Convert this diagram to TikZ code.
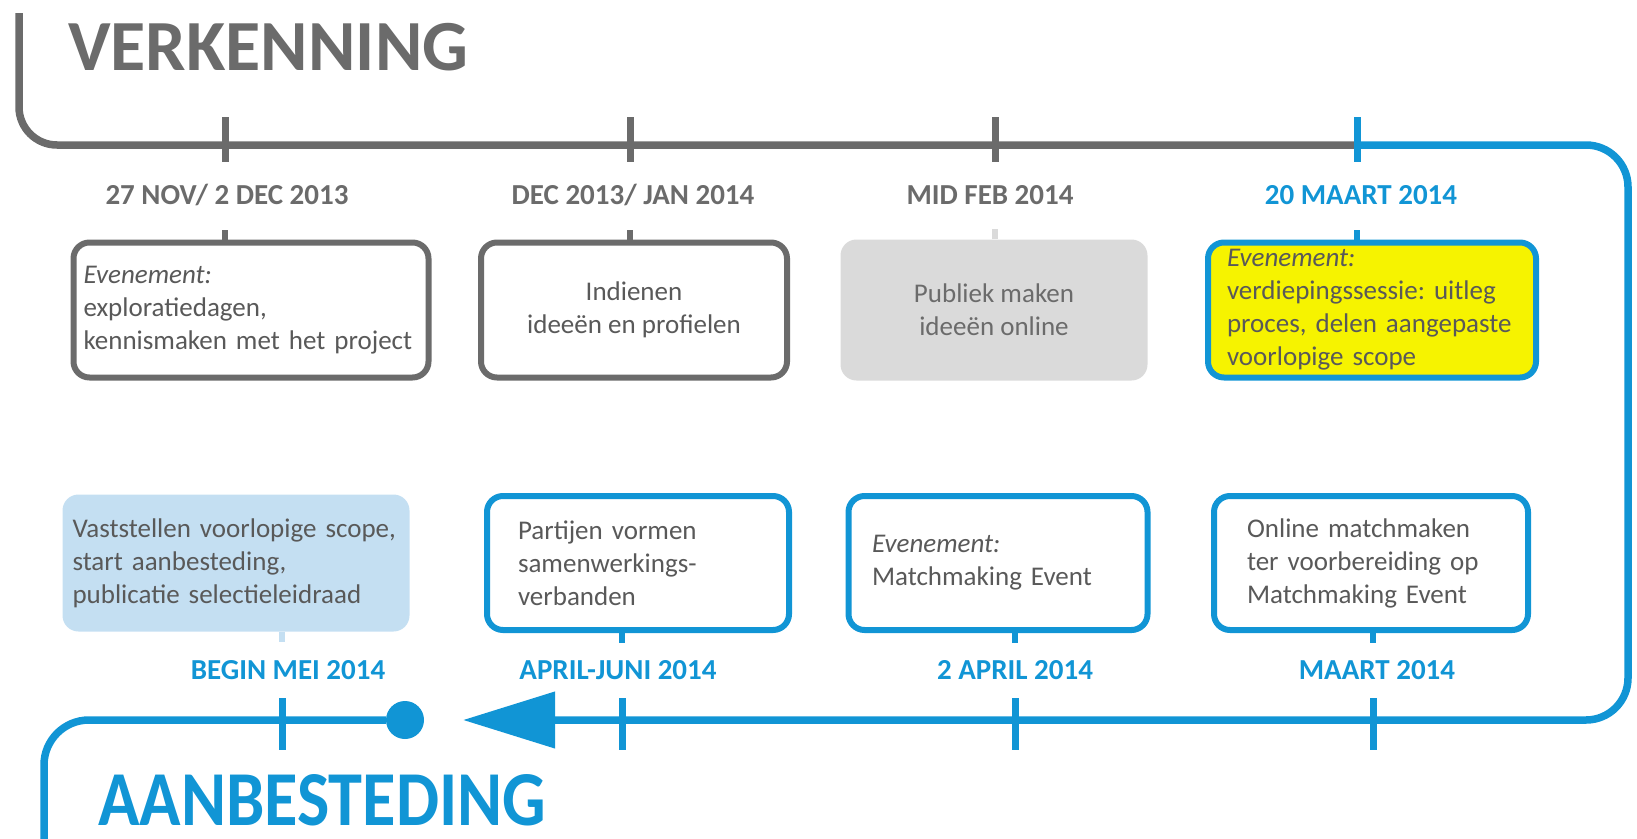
\documentclass[tikz,border=0pt]{standalone}
\usepackage{fontspec}
\usepackage{graphicx}
\setmainfont{Carlito}
\frenchspacing
\usetikzlibrary{arrows.meta, positioning}
\definecolor{vkGray}{HTML}{6B6B6B}
\definecolor{vkText}{HTML}{595959}
\definecolor{vkBlue}{HTML}{1195D5}
\definecolor{vkYellow}{HTML}{F6F300}
\definecolor{vkBoxGray}{HTML}{DADADA}
\definecolor{vkBoxBlue}{HTML}{C4DFF2}

\tikzset{
  phase/.style={font=\fontsize{72}{80}\selectfont\bfseries, inner sep=0pt},
  grayline/.style={draw=vkGray, line width=7.5pt},
  blueline/.style={draw=vkBlue, line width=7.5pt},
  graytick/.style={draw=vkGray, line width=7pt},
  bluetick/.style={draw=vkBlue, line width=7pt},
  datelbl/.style={font=\fontsize{29}{32}\selectfont\bfseries, inner sep=0pt, anchor=base},
  eventbox/.style={rounded corners=16pt, inner sep=0pt, align=left,
                   font=\fontsize{27}{33}\selectfont, text=vkText},
  graybox/.style={eventbox, draw=vkGray, line width=6pt, fill=white},
  bluebox/.style={eventbox, draw=vkBlue, line width=6pt, fill=white},
  stub/.style={line width=6pt},
  dotmark/.style={circle, fill=vkBlue, minimum size=38pt, inner sep=0pt}
}

\begin{document}
\begin{tikzpicture}[x=1pt, y=-1pt]
  \useasboundingbox (0,0) rectangle (1637,838);

  % points on the timeline
  \coordinate (vstart) at (19,13);
  \coordinate (k1) at (225,145);
  \coordinate (k2) at (630,145);
  \coordinate (k3) at (995,145);
  \coordinate (k4) at (1357,145);
  \coordinate (ne) at (1628,145);
  \coordinate (se) at (1628,720);
  \coordinate (m1) at (282,720);
  \coordinate (m2) at (622,720);
  \coordinate (m3) at (1015,720);
  \coordinate (m4) at (1373,720);
  \coordinate (tip) at (463,720);
  \coordinate (sw) at (44,720);
  \coordinate (aend) at (44,850);

  % phase titles
  \node[phase, text=vkGray, anchor=base west] (verk) at (68,70) {VERKENNING};
  \node[phase, text=vkBlue, anchor=base west] (aanb) at (98,825)
    {\scalebox{0.95}[1.08]{AANBESTEDING}};

  % timeline
  \draw[grayline, rounded corners=38pt] (vstart) -- (vstart |- k1) -- (k4);
  \draw[blueline, rounded corners=42pt, -{Triangle[length=92pt, width=55pt]}]
    (k4) -- (ne) -- (se) -- (tip);
  \node[dotmark] (dot) at (405,720) {};
  \draw[blueline, rounded corners=45pt] (dot) -- (sw) -- (aend);

  \foreach \k in {k1,k2,k3}
    \draw[graytick] (\k) ++(0,-28) -- ++(0,45);
  \draw[bluetick] (k4) ++(0,-28) -- ++(0,45);
  \foreach \m in {m1,m2,m3,m4}
    \draw[bluetick] (\m) ++(0,-22) -- ++(0,52);

  % dates
  \node[datelbl, text=vkGray] (d1) at (227,204) {27 NOV/ 2 DEC 2013};
  \node[datelbl, text=vkGray] (d2) at (633,204) {DEC 2013/ JAN 2014};
  \node[datelbl, text=vkGray] (d3) at (990,204) {MID FEB 2014};
  \node[datelbl, text=vkBlue] (d4) at (1361,204) {20 MAART 2014};
  \node[datelbl, text=vkBlue] (d5) at (288,679) {BEGIN MEI 2014};
  \node[datelbl, text=vkBlue] (d6) at (618,679) {APRIL-JUNI 2014};
  \node[datelbl, text=vkBlue] (d7) at (1015,679) {2 APRIL 2014};
  \node[datelbl, text=vkBlue] (d8) at (1377,679) {MAART 2014};

  % upper boxes
  \node[graybox, minimum width=355, minimum height=135, text width=335] (b1) at (251,310)
    {\textit{Evenement:}\\exploratiedagen,\\kennismaken met het project};
  \node[graybox, minimum width=306, minimum height=135, align=center] (b2) at (634,310)
    {Indienen\\ideeën en profielen};
  \node[eventbox, fill=vkBoxGray, text=vkGray, minimum width=307, minimum height=141,
        align=center] (b3) at (994,310)
    {Publiek maken\\ideeën online};
  \node[bluebox, fill=vkYellow, minimum width=328, minimum height=135, text width=290] (b4) at (1372,310)
    {\textit{Evenement:}\\verdiepingssessie: uitleg\\proces, delen aangepaste\\voorlopige scope};

  \draw[stub, vkGray] (b1.north -| k1) -- ++(0,-10);
  \draw[stub, vkGray] (b2.north -| k2) -- ++(0,-10);
  \draw[stub, vkBoxGray] (b3.north -| k3) -- ++(0,-10);
  \draw[stub, vkBlue] (b4.north -| k4) -- ++(0,-10);

  % lower boxes
  \node[eventbox, fill=vkBoxBlue, minimum width=347, minimum height=137, text width=327] (b5) at (236,563)
    {Vaststellen voorlopige scope,\\start aanbesteding,\\publicatie selectieleidraad};
  \node[bluebox, minimum width=302, minimum height=134, text width=240] (b6) at (638,563)
    {Partijen vormen\\samenwerkings-\\verbanden};
  \node[bluebox, minimum width=299, minimum height=134, text width=252] (b7) at (998,563)
    {\textit{Evenement:}\\Matchmaking Event};
  \node[bluebox, minimum width=314, minimum height=134, text width=248] (b8) at (1371,563)
    {Online matchmaken\\ter voorbereiding op\\Matchmaking Event};

  \draw[stub, vkBoxBlue] (b5.south -| m1) -- ++(0,10);
  \draw[stub, vkBlue] (b6.south -| m2) -- ++(0,10);
  \draw[stub, vkBlue] (b7.south -| m3) -- ++(0,10);
  \draw[stub, vkBlue] (b8.south -| m4) -- ++(0,10);
\end{tikzpicture}
\end{document}
